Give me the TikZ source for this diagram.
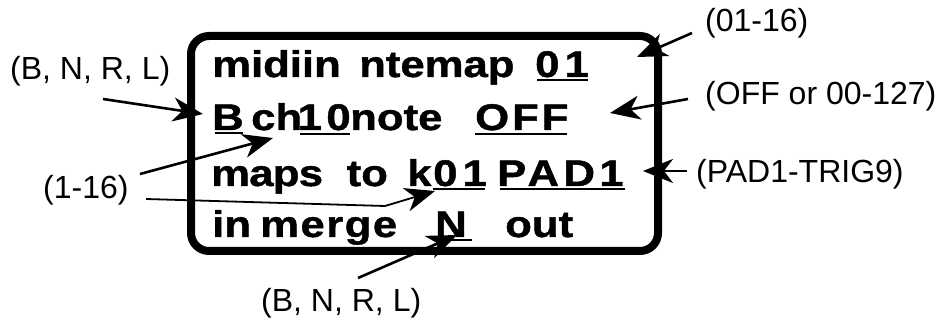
\documentclass[tikz,border=0pt]{standalone}
\usepackage{fontspec}
\setmainfont{Liberation Sans}
\newfontfamily\lcdface[FakeStretch=1.18,FakeBold=1.2]{Liberation Sans Bold}
\usetikzlibrary{arrows.meta}
% tracking for the display words
\newcommand{\trk}[1]{\addfontfeatures{LetterSpace=#1}}
\begin{document}
\begin{tikzpicture}[x=1pt,y=-1pt,
  lcd/.style={anchor=base west, inner sep=0pt, font=\fontsize{37}{37}\lcdface},
  lbl/.style={anchor=base west, inner sep=0pt, font=\fontsize{32}{32}\selectfont},
  frame/.style={line width=8pt, rounded corners=18pt},
  uline/.style={line width=2pt},
  pointer/.style={line width=2.6pt, -{Stealth[length=30pt,width=24pt,inset=9pt]}},
  thinpointer/.style={line width=1.8pt, -{Stealth[length=30pt,width=24pt,inset=9pt]}}]
\useasboundingbox (0,0) rectangle (937,320);

% display frame
\draw[frame] (191,36) rectangle (658,251);

% display text, line 1
\node[lcd] (w1a) at (212,77) {midiin};
\node[lcd] (w1b) at (359,77) {ntemap};
\node[lcd] (w1c) at (535,77) {\trk{14}01};
% line 2
\node[lcd] (w2a) at (212,130) {B};
\node[lcd] (w2b) at (251,130) {ch};
\node[lcd] (w2c) at (297.5,130) {\trk{12}10};
\node[lcd] (w2d) at (350,130) {note};
\node[lcd] (w2e) at (475,130) {\trk{8}OFF};
% line 3
\node[lcd] (w3a) at (211,186) {\trk{-2}maps};
\node[lcd] (w3b) at (346.5,186) {to};
\node[lcd] (w3c) at (407,186) {k};
\node[lcd] (w3d) at (433,186) {\trk{14}01};
\node[lcd] (w3e) at (497,186) {\trk{12}PAD1};
% line 4
\node[lcd] (w4a) at (212,237) {in};
\node[lcd] (w4b) at (260,237) {\trk{4}merge};
\node[lcd] (w4c) at (435,237) {N};
\node[lcd] (w4d) at (505,237) {out};

% underlined fields
\draw[uline] (537,80) -- (588,80);
\draw[uline] (215,133) -- (243,133);
\draw[uline] (300,134) -- (350,134);
\draw[uline] (475,134) -- (567,134);
\draw[uline] (433,189) -- (485,189);
\draw[uline] (500,189) -- (625,189);
\draw[uline] (440,240) -- (472,240);

% value ranges
\node[lbl] (rmode)  at (10,80)   {(B, N, R, L)};
\node[lbl] (rchan)  at (43,199)  {(1-16)};
\node[lbl] (rmap)   at (705,32)  {(01-16)};
\node[lbl] (rnote)  at (705,105) {(OFF or 00-127)};
\node[lbl] (rpad)   at (696,183) {(PAD1-TRIG9)};
\node[lbl] (rmerge) at (261,312) {(B, N, R, L)};

% pointer ends
\coordinate (t1) at (103,99);   \coordinate (h1) at (203,114);
\coordinate (t2) at (140,174);  \coordinate (h2) at (273,138);
\coordinate (t3) at (146,199);  \coordinate (b3) at (385,206); \coordinate (h3) at (435,191);
\coordinate (t4) at (358,278);  \coordinate (h4) at (457,235);
\coordinate (t5) at (692,33);   \coordinate (h5) at (637,57);
\coordinate (t6) at (688,99);   \coordinate (h6) at (610,113);
\coordinate (t7) at (687,171);  \coordinate (h7) at (643,171);

\draw[pointer] (t1) -- (h1);
\draw[pointer] (t2) -- (h2);
\draw[thinpointer] (t3) -- (b3) -- (h3);
\draw[pointer] (t4) -- (h4);
\draw[pointer] (t5) -- (h5);
\draw[pointer] (t6) -- (h6);
\draw[pointer] (t7) -- (h7);
\end{tikzpicture}
\end{document}
